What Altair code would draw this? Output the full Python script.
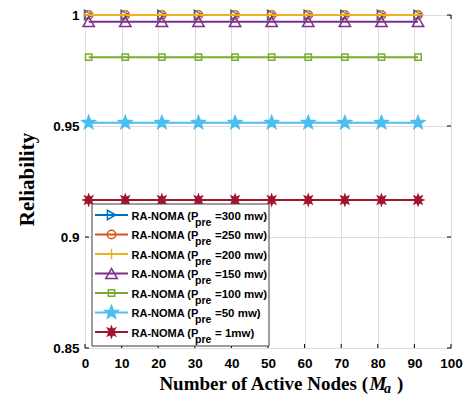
import math
import altair as alt
import pandas as pd

# ---- data -------------------------------------------------------------
nodes = [1, 11, 21, 31, 41, 51, 61, 71, 81, 91]

rel_300 = [1.000, 1.000, 1.000, 1.000, 1.000, 1.000, 1.000, 1.000, 1.000, 1.000]
rel_250 = [1.000, 1.000, 1.000, 1.000, 1.000, 1.000, 1.000, 1.000, 1.000, 1.000]
rel_200 = [1.000, 1.000, 1.000, 1.000, 1.000, 1.000, 1.000, 1.000, 1.000, 1.000]
rel_150 = [0.997, 0.997, 0.997, 0.997, 0.997, 0.997, 0.997, 0.997, 0.997, 0.997]
rel_100 = [0.981, 0.981, 0.981, 0.981, 0.981, 0.981, 0.981, 0.981, 0.981, 0.981]
rel_50 = [0.9515, 0.9515, 0.9515, 0.9515, 0.9515, 0.9515, 0.9515, 0.9515, 0.9515, 0.9515]
rel_1 = [0.9167, 0.9167, 0.9167, 0.9167, 0.9167, 0.9167, 0.9167, 0.9167, 0.9167, 0.9167]

series_values = [rel_300, rel_250, rel_200, rel_150, rel_100, rel_50, rel_1]
power_tails = ["=300 mw)", "=250 mw)", "=200 mw)", "=150 mw)", "=100 mw)", "=50 mw)", "= 1mw)"]

x_ticks = [0, 10, 20, 30, 40, 50, 60, 70, 80, 90, 100]
y_ticks = [0.85, 0.9, 0.95, 1.0]


# ---- marker shapes ----------------------------------------------------
def star_path(points, inner):
    pts = []
    for k in range(2 * points):
        ang = -math.pi / 2 + k * math.pi / points
        r = 1.0 if k % 2 == 0 else inner
        pts.append(f"{r * math.cos(ang):.3f},{r * math.sin(ang):.3f}")
    return "M" + "L".join(pts) + "Z"


PLUS = "M-1,0L1,0M0,-1L0,1"
PENTAGRAM = star_path(5, 0.42)
ASTERISK = star_path(8, 0.5)

colors = ["#0072BD", "#D95319", "#EDB120", "#7E2F8E", "#77AC30", "#4DBEEE", "#A2142F"]
shapes = ["triangle-right", "circle", PLUS, "triangle-up", "square", PENTAGRAM, ASTERISK]
sizes = [90, 70, 110, 130, 40, 190, 110]
filled = [False, False, False, False, False, True, True]

W, H = 366, 333
SANS = "Liberation Sans"
SERIF = "Liberation Serif"

xscale = alt.Scale(domain=[0, 100], nice=False)
yscale = alt.Scale(domain=[0.85, 1.0], nice=False, zero=False)
grid_color = "#dedede"

xaxis = alt.Axis(values=x_ticks, grid=True, gridColor=grid_color, gridWidth=1,
                 ticks=False, domain=False, labelFont=SANS, labelFontWeight="bold",
                 labelFontSize=13.5, labelColor="black", labelPadding=8, title=None,
                 labelFlush=False)
yaxis = alt.Axis(values=y_ticks, format="~g", grid=True, gridColor=grid_color, gridWidth=1,
                 ticks=False, domain=False, labelFont=SANS, labelFontWeight="bold",
                 labelFontSize=13.5, labelColor="black", labelPadding=6,
                 title="Reliability", titleFont=SERIF, titleFontWeight="bold",
                 titleFontSize=21, titleColor="black", titleX=-58, titleY=164,
                 titleAngle=270, titleAlign="center", titleBaseline="middle")

X = alt.X("x:Q", scale=xscale, axis=xaxis)
Y = alt.Y("y:Q", scale=yscale, axis=yaxis)

layers = []

# inward tick marks on all four sides of the box
xt = pd.DataFrame({"x": x_ticks})
yt = pd.DataFrame({"y": y_ticks})
layers.append(alt.Chart(xt).mark_rule(color="black", strokeWidth=1).encode(
    x=X, y=alt.value(H), y2=alt.value(H - 4)))
layers.append(alt.Chart(xt).mark_rule(color="black", strokeWidth=1).encode(
    x=X, y=alt.value(0), y2=alt.value(4)))
layers.append(alt.Chart(yt).mark_rule(color="black", strokeWidth=1).encode(
    y=Y, x=alt.value(0), x2=alt.value(4)))
layers.append(alt.Chart(yt).mark_rule(color="black", strokeWidth=1).encode(
    y=Y, x=alt.value(W), x2=alt.value(W - 4)))


def point_style(col, shp, sz, fl):
    pt = dict(shape=shp, size=sz, strokeWidth=1.5, opacity=1, stroke=col)
    if fl:
        pt.update(filled=True, fill=col, color=col)
    else:
        pt.update(filled=False, fill="white", fillOpacity=0, color=col)
    return pt


# reliability curves
for vals, col, shp, sz, fl in zip(series_values, colors, shapes, sizes, filled):
    df = pd.DataFrame({"x": nodes, "y": vals})
    layers.append(alt.Chart(df).mark_line(color=col, strokeWidth=2).encode(x=X, y=Y))
    layers.append(alt.Chart(df).mark_point(**point_style(col, shp, sz, fl)).encode(x=X, y=Y))

# legend
one = pd.DataFrame({"k": [0]})
layers.append(alt.Chart(one).mark_rect(fill="white", stroke="#3c3c3c", strokeWidth=1).encode(
    x=alt.value(7), x2=alt.value(184), y=alt.value(189), y2=alt.value(331)))

row0, step = 200, 19.5
txt = dict(font=SANS, fontWeight="bold", color="black", align="left", baseline="middle")
for i, (tail, col, shp, sz, fl) in enumerate(zip(power_tails, colors, shapes, sizes, filled)):
    ly = row0 + i * step
    layers.append(alt.Chart(one).mark_rule(color=col, strokeWidth=2).encode(
        x=alt.value(10), x2=alt.value(43), y=alt.value(ly)))
    layers.append(alt.Chart(one).mark_point(**point_style(col, shp, sz, fl)).encode(
        x=alt.value(26.5), y=alt.value(ly)))
    layers.append(alt.Chart(one).mark_text(text="RA-NOMA (P", fontSize=11, **txt).encode(
        x=alt.value(46.5), y=alt.value(ly + 1.5)))
    layers.append(alt.Chart(one).mark_text(text="pre", fontSize=10.5, **txt).encode(
        x=alt.value(110), y=alt.value(ly + 7.5)))
    layers.append(alt.Chart(one).mark_text(text=tail, fontSize=11.5, **txt).encode(
        x=alt.value(130), y=alt.value(ly + 1.5)))

# x-axis title with italic subscripted symbol
ttl = dict(font=SERIF, fontWeight="bold", fontSize=19, color="black", baseline="alphabetic")
layers.append(alt.Chart(one).mark_text(text="Number of Active Nodes (", align="right", **ttl).encode(
    x=alt.value(283), y=alt.value(375)))
layers.append(alt.Chart(one).mark_text(text="M", align="left", fontStyle="italic", **ttl).encode(
    x=alt.value(284.5), y=alt.value(375)))
layers.append(alt.Chart(one).mark_text(text="a", align="left", fontStyle="italic",
                                       **{**ttl, "fontSize": 14}).encode(
    x=alt.value(299), y=alt.value(378)))
layers.append(alt.Chart(one).mark_text(text=")", align="left", **ttl).encode(
    x=alt.value(312), y=alt.value(375)))

chart = alt.layer(*layers).properties(
    width=W, height=H,
    autosize=alt.AutoSizeParams(type="none"),
    padding={"left": 85, "top": 15, "right": 22, "bottom": 48},
    background="white",
).configure_view(stroke="black", strokeWidth=1)

chart.save("out.html", embed_options={"renderer": "svg", "actions": False})
